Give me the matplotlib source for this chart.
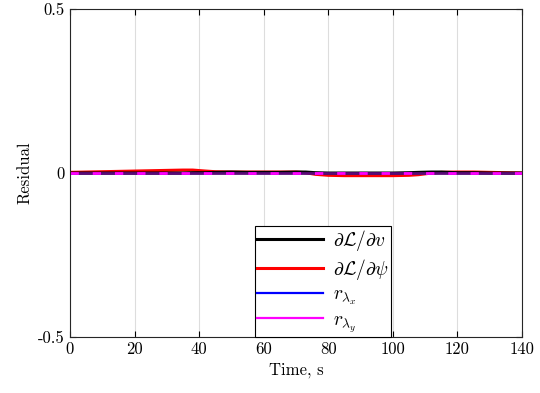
import numpy as np
import matplotlib.pyplot as plt
from matplotlib.lines import Line2D

plt.rcParams["font.family"] = "serif"
plt.rcParams["font.serif"] = ["cmr10", "DejaVu Serif"]
plt.rcParams["mathtext.fontset"] = "cm"
plt.rcParams["axes.formatter.use_mathtext"] = True

# --- data (residuals, x1e-3) ---
t = [0, 5, 10, 15, 20, 25, 30, 35, 38, 42, 45, 50, 55, 60, 65, 70, 73, 76,
     80, 85, 90, 95, 100, 105, 108, 112, 115, 120, 125, 130, 135, 140]
r_v = [0, 0, 0, 0, 0, 0, 0, 0, 1, 1, 2, 3, 2, 2, 2, 3, 3, 1,
       0, 0, 0, 0, 0, 1, 2, 3, 3, 1, 1, 0, 0, 0]
r_psi = [2, 3, 4, 5, 6, 7, 8, 9, 9, 6, 4, 3, 3, 3, 3, 3, 1, -4,
         -7, -8, -8, -8, -8, -7, -5, 0, 2, 3, 3, 2, 1, 0]
r_lx = [0] * len(t)
r_ly = [0] * len(t)

t = np.array(t)
r_v = np.array(r_v) * 1e-3
r_psi = np.array(r_psi) * 1e-3
r_lx = np.array(r_lx) * 1e-3
r_ly = np.array(r_ly) * 1e-3

labels = [r"$\partial\mathcal{L}/\partial v$", r"$\partial\mathcal{L}/\partial \psi$",
          r"$r_{\lambda_x}$", r"$r_{\lambda_y}$"]

fig = plt.figure(figsize=(5.4, 3.93), dpi=100)
ax = fig.add_axes([0.1296, 0.1425, 0.8371, 0.8345])

ax.plot(t, r_psi, color="red", lw=2.2)
ax.plot(t, r_v, color="black", lw=2.2)
ax.plot(t, r_lx, color="#5a0a78", lw=2.0)
ax.plot(t, r_ly, color="magenta", lw=2.0, ls=(0, (3, 5)))

ax.set_xlim(0, 140)
ax.set_ylim(-0.5, 0.5)
ax.set_xticks(np.arange(0, 141, 20))
ax.set_xticklabels([str(v) for v in range(0, 141, 20)])
ax.set_yticks([-0.5, 0, 0.5])
ax.set_yticklabels(["-0.5", "0", "0.5"])
ax.tick_params(direction="in", top=True, right=True, labelsize=12, length=4)
ax.grid(True, color="#dddddd", lw=0.8)
ax.set_axisbelow(True)
for s in ax.spines.values():
    s.set_linewidth(0.8)
    s.set_color("#262626")

ax.set_xlabel("Time, s", fontsize=12)
ax.set_ylabel("Residual", fontsize=12)

handles = [Line2D([], [], color="black", lw=2.2),
           Line2D([], [], color="red", lw=2.2),
           Line2D([], [], color="blue", lw=1.6),
           Line2D([], [], color="magenta", lw=1.6)]
leg = ax.legend(handles, labels, loc="lower left", bbox_to_anchor=(0.409, 0.0),
                fontsize=14, handlelength=3.4, fancybox=False, framealpha=1,
                edgecolor="black", borderpad=0.12, labelspacing=0.2,
                borderaxespad=0, handletextpad=0.5)
leg.get_frame().set_linewidth(0.8)

fig.savefig("out.png", dpi=100)
